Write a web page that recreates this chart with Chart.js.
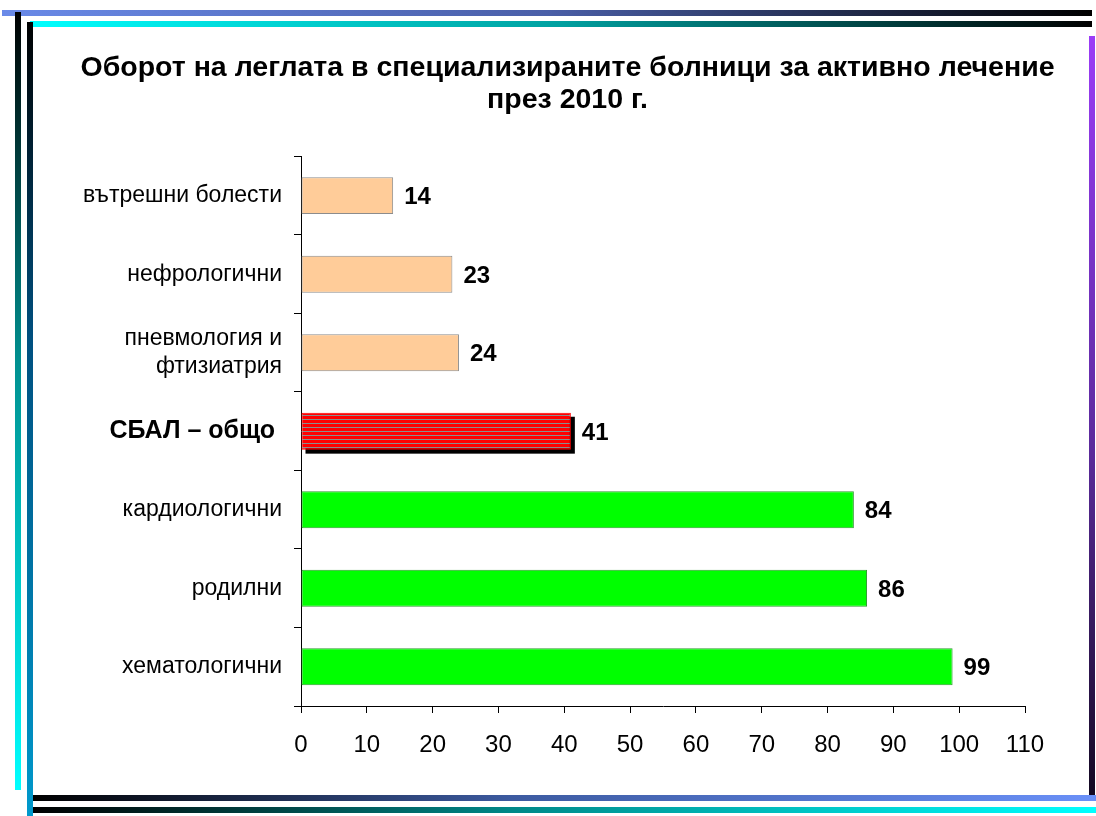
<!DOCTYPE html>
<html>
<head>
<meta charset="utf-8">
<script src="https://cdn.jsdelivr.net/npm/chart.js@4.4.1/dist/chart.umd.min.js"></script>
<style>
  html, body { margin: 0; padding: 0; background: #fff; }
  body { width: 1096px; height: 816px; position: relative; overflow: hidden; }
  #c { position: absolute; left: 0; top: 0; }
  .deco { position: absolute; }
</style>
</head>
<body>
<canvas id="c" width="1096" height="816"></canvas>
<div class="deco" style="left:2px;top:10px;width:1090px;height:6px;background:linear-gradient(to right,#6a8ae8,#4a5fa8 50%,#000)"></div>
<div class="deco" style="left:30px;top:21px;width:1062px;height:6px;background:linear-gradient(to right,#00ffff,#00a0a0 50%,#000)"></div>
<div class="deco" style="left:15px;top:12px;width:6px;height:778px;background:linear-gradient(to bottom,#000,#009090 45%,#00ffff)"></div>
<div class="deco" style="left:27px;top:22px;width:6px;height:794px;background:linear-gradient(to bottom,#000,#005080 40%,#0099cc)"></div>
<div class="deco" style="left:1089px;top:36px;width:6px;height:764px;background:linear-gradient(to bottom,#9b3cf7,#5a2a9a 55%,#120820)"></div>
<div class="deco" style="left:33px;top:795px;width:1063px;height:6px;background:linear-gradient(to right,#000,#3c5aa0 45%,#6a90f8)"></div>
<div class="deco" style="left:33px;top:807px;width:1063px;height:6px;background:linear-gradient(to right,#000,#008888 45%,#00ffff)"></div>
<script>
const titleLines = ['Оборот на леглата в специализираните болници за активно лечение', 'през 2010 г.'];
const categories = [
  'вътрешни болести',
  'нефрологични',
  ['пневмология и', 'фтизиатрия'],
  'СБАЛ – общо ',
  'кардиологични',
  'родилни',
  'хематологични'
];
const values = [14, 23, 24, 41, 84, 86, 99];
const highlightIndex = 3;
const xTickMin = 0;
const xTickMax = 110;
const xTickStep = 10;

const FONT = '"Liberation Sans", Arial, sans-serif';

// striped pattern for the highlighted bar
const pc = document.createElement('canvas');
pc.width = 4; pc.height = 4;
const pctx = pc.getContext('2d');
pctx.fillStyle = '#ff0000'; pctx.fillRect(0, 0, 4, 4);
pctx.fillStyle = '#8c8c8c'; pctx.fillRect(0, 3, 4, 1);
const stripe = document.getElementById('c').getContext('2d').createPattern(pc, 'repeat');

const bg = values.map((v, i) => i < 3 ? '#ffcc99' : (i === highlightIndex ? stripe : '#00ff00'));
const bd = values.map((v, i) => i < 3 ? '#8c8c8c' : (i === highlightIndex ? '#ff0000' : '#2f9a2f'));

const titleShiftPlugin = {
  id: 'titleShift',
  afterLayout(chart) {
    if (chart.titleBlock) {
      chart.titleBlock.left = 80;
      chart.titleBlock.right = 1055;
    }
  }
};

const shadowPlugin = {
  id: 'shadow',
  beforeDatasetsDraw(chart) {
    const el = chart.getDatasetMeta(0).data[highlightIndex];
    if (!el) return;
    const p = el.getProps(['x', 'y', 'base', 'height'], true);
    const ctx = chart.ctx;
    ctx.save();
    ctx.fillStyle = '#000';
    ctx.fillRect(p.base + 4, p.y - p.height / 2 + 4, p.x - p.base, p.height);
    ctx.restore();
  }
};

const labelPlugin = {
  id: 'vlabels',
  afterDatasetsDraw(chart) {
    const meta = chart.getDatasetMeta(0);
    const ctx = chart.ctx;
    ctx.save();
    ctx.font = 'bold 24px ' + FONT;
    ctx.fillStyle = '#000';
    ctx.textAlign = 'left';
    ctx.textBaseline = 'middle';
    meta.data.forEach((el, i) => {
      const p = el.getProps(['x', 'y'], true);
      ctx.fillText(String(values[i]), p.x + 11, p.y + 2);
    });
    ctx.restore();
  }
};

new Chart(document.getElementById('c'), {
  type: 'bar',
  data: {
    labels: categories,
    datasets: [{
      data: values,
      backgroundColor: bg,
      borderColor: bd,
      borderWidth: 1,
      borderSkipped: false,
      categoryPercentage: 1,
      barPercentage: 0.47
    }]
  },
  options: {
    indexAxis: 'y',
    responsive: false,
    animation: false,
    devicePixelRatio: 1,
    layout: { padding: { top: 0, right: 71, left: 0, bottom: 0 } },
    plugins: {
      legend: { display: false },
      tooltip: { enabled: false },
      title: {
        display: true,
        text: titleLines,
        color: '#000',
        font: { family: FONT, size: 28.5, weight: 'bold', lineHeight: 1.13 },
        padding: { top: 52, bottom: 40 }
      }
    },
    scales: {
      x: {
        min: xTickMin,
        max: xTickMax,
        afterFit(s) { s.height = 110; },
        ticks: { stepSize: xTickStep, color: '#000', padding: 18, font: { family: FONT, size: 24 } },
        grid: { drawOnChartArea: false, drawTicks: true, tickLength: 7, color: '#000' },
        border: { display: true, color: '#000', width: 1 }
      },
      y: {
        afterFit(s) { s.width = 301; },
        ticks: {
          color: '#000',
          padding: 12,
          font: (ctx) => ({ family: FONT, size: ctx.index === highlightIndex ? 25 : 23, weight: ctx.index === highlightIndex ? 'bold' : 'normal', lineHeight: 1.22 })
        },
        grid: { drawOnChartArea: false, drawTicks: true, tickLength: 7, color: '#000' },
        border: { display: true, color: '#000', width: 1 }
      }
    }
  },
  plugins: [titleShiftPlugin, shadowPlugin, labelPlugin]
});
</script>
</body>
</html>
